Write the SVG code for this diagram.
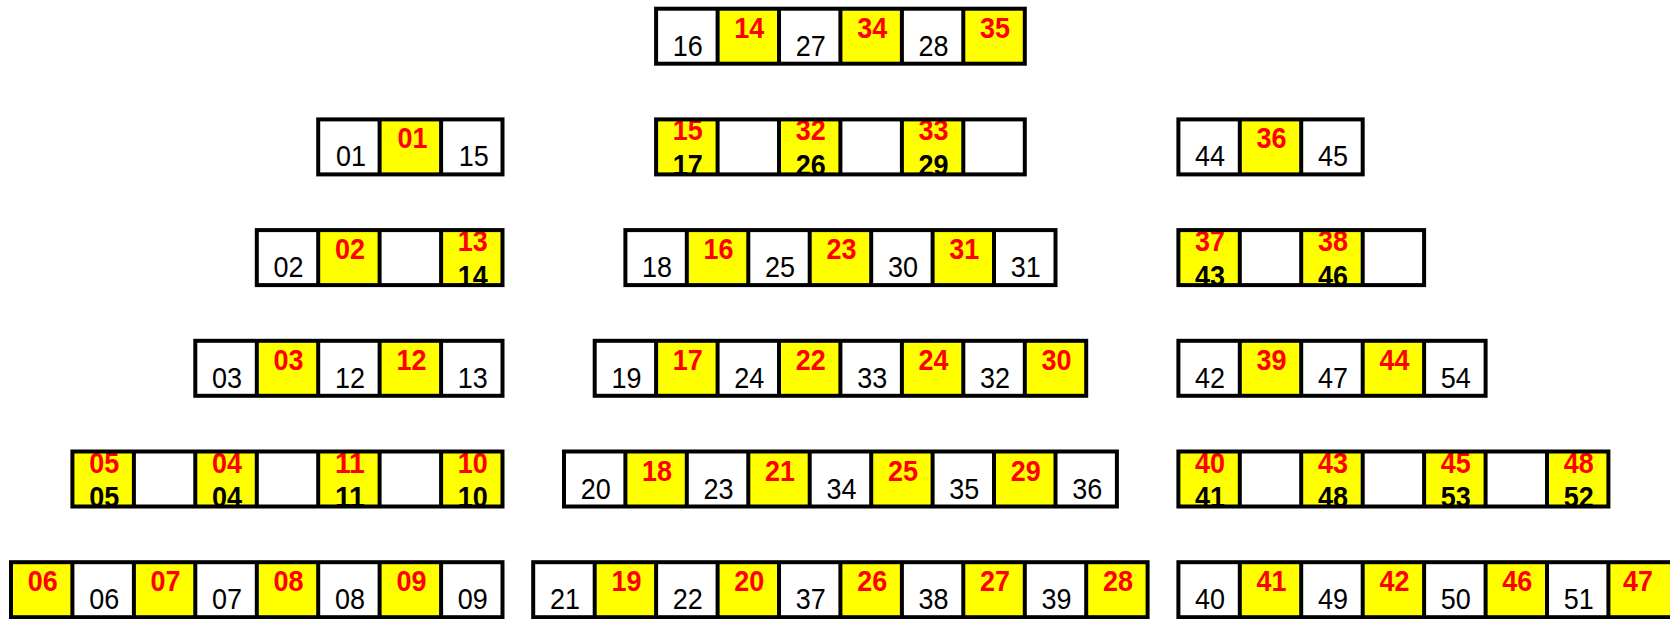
<svg xmlns="http://www.w3.org/2000/svg" width="1670" height="619" viewBox="0 0 1670 619">
<style>
.w{fill:#fff}.y{fill:#ff0}
.f{fill:none;stroke:#000;stroke-width:4}
text{font-family:"Liberation Sans",Arial,sans-serif;font-size:30px;text-anchor:middle}
.k{fill:#000}.r{fill:#f00;font-weight:bold}.b{fill:#000;font-weight:bold}
</style>
<rect x="0" y="0" width="1670" height="619" fill="#fff"/>

<!-- LEFT COLUMN -->
<g id="L2">
<rect class="w" x="318.2" y="119.4" width="184.3" height="55"/>
<rect class="y" x="379.6" y="119.4" width="61.5" height="55"/>
<text class="k" x="350.9" y="166.4" textLength="30" lengthAdjust="spacingAndGlyphs">01</text>
<text class="r" x="412.4" y="148.4" textLength="30" lengthAdjust="spacingAndGlyphs">01</text>
<text class="k" x="473.8" y="166.4" textLength="30" lengthAdjust="spacingAndGlyphs">15</text>
<rect class="f" x="318.2" y="119.4" width="184.3" height="55"/>
<path class="f" d="M379.6 119.4V174.4M441.1 119.4V174.4"/>
</g>

<g id="L3">
<rect class="w" x="256.8" y="230.1" width="245.7" height="55"/>
<rect class="y" x="318.2" y="230.1" width="61.4" height="55"/>
<rect class="y" x="441.1" y="230.1" width="61.4" height="55"/>
<text class="k" x="288.5" y="277.1" textLength="30" lengthAdjust="spacingAndGlyphs">02</text>
<text class="r" x="349.9" y="259.1" textLength="30" lengthAdjust="spacingAndGlyphs">02</text>
<text class="r" x="472.8" y="251.1" textLength="30" lengthAdjust="spacingAndGlyphs">13</text>
<text class="b" x="472.8" y="285.6" textLength="30" lengthAdjust="spacingAndGlyphs">14</text>
<rect class="f" x="256.8" y="230.1" width="245.7" height="55"/>
<path class="f" d="M318.2 230.1V285.1M379.6 230.1V285.1M441.1 230.1V285.1"/>
</g>

<g id="L4">
<rect class="w" x="195.3" y="340.8" width="307.2" height="55"/>
<rect class="y" x="256.8" y="340.8" width="61.4" height="55"/>
<rect class="y" x="379.6" y="340.8" width="61.5" height="55"/>
<text class="k" x="227" y="387.8" textLength="30" lengthAdjust="spacingAndGlyphs">03</text>
<text class="r" x="288.5" y="369.8" textLength="30" lengthAdjust="spacingAndGlyphs">03</text>
<text class="k" x="349.9" y="387.8" textLength="30" lengthAdjust="spacingAndGlyphs">12</text>
<text class="r" x="411.4" y="369.8" textLength="30" lengthAdjust="spacingAndGlyphs">12</text>
<text class="k" x="472.8" y="387.8" textLength="30" lengthAdjust="spacingAndGlyphs">13</text>
<rect class="f" x="195.3" y="340.8" width="307.2" height="55"/>
<path class="f" d="M256.8 340.8V395.8M318.2 340.8V395.8M379.6 340.8V395.8M441.1 340.8V395.8"/>
</g>

<g id="L5">
<rect class="w" x="72.4" y="451.5" width="430.1" height="55"/>
<rect class="y" x="72.4" y="451.5" width="61.5" height="55"/>
<rect class="y" x="195.3" y="451.5" width="61.5" height="55"/>
<rect class="y" x="318.2" y="451.5" width="61.4" height="55"/>
<rect class="y" x="441.1" y="451.5" width="61.4" height="55"/>
<text class="r" x="104.2" y="472.5" textLength="30" lengthAdjust="spacingAndGlyphs">05</text>
<text class="b" x="104.2" y="507" textLength="30" lengthAdjust="spacingAndGlyphs">05</text>
<text class="r" x="227" y="472.5" textLength="30" lengthAdjust="spacingAndGlyphs">04</text>
<text class="b" x="227" y="507" textLength="30" lengthAdjust="spacingAndGlyphs">04</text>
<text class="r" x="349.9" y="472.5" textLength="30" lengthAdjust="spacingAndGlyphs">11</text>
<text class="b" x="349.9" y="507" textLength="30" lengthAdjust="spacingAndGlyphs">11</text>
<text class="r" x="472.8" y="472.5" textLength="30" lengthAdjust="spacingAndGlyphs">10</text>
<text class="b" x="472.8" y="507" textLength="30" lengthAdjust="spacingAndGlyphs">10</text>
<rect class="f" x="72.4" y="451.5" width="430.1" height="55"/>
<path class="f" d="M133.9 451.5V506.5M195.3 451.5V506.5M256.8 451.5V506.5M318.2 451.5V506.5M379.6 451.5V506.5M441.1 451.5V506.5"/>
</g>

<g id="L6">
<rect class="w" x="11" y="562.2" width="491.5" height="55"/>
<rect class="y" x="11" y="562.2" width="61.4" height="55"/>
<rect class="y" x="133.9" y="562.2" width="61.4" height="55"/>
<rect class="y" x="256.8" y="562.2" width="61.4" height="55"/>
<rect class="y" x="379.6" y="562.2" width="61.5" height="55"/>
<text class="r" x="42.7" y="591.2" textLength="30" lengthAdjust="spacingAndGlyphs">06</text>
<text class="k" x="104.2" y="609.2" textLength="30" lengthAdjust="spacingAndGlyphs">06</text>
<text class="r" x="165.6" y="591.2" textLength="30" lengthAdjust="spacingAndGlyphs">07</text>
<text class="k" x="227" y="609.2" textLength="30" lengthAdjust="spacingAndGlyphs">07</text>
<text class="r" x="288.5" y="591.2" textLength="30" lengthAdjust="spacingAndGlyphs">08</text>
<text class="k" x="349.9" y="609.2" textLength="30" lengthAdjust="spacingAndGlyphs">08</text>
<text class="r" x="411.4" y="591.2" textLength="30" lengthAdjust="spacingAndGlyphs">09</text>
<text class="k" x="472.8" y="609.2" textLength="30" lengthAdjust="spacingAndGlyphs">09</text>
<rect class="f" x="11" y="562.2" width="491.5" height="55"/>
<path class="f" d="M72.4 562.2V617.2M133.9 562.2V617.2M195.3 562.2V617.2M256.8 562.2V617.2M318.2 562.2V617.2M379.6 562.2V617.2M441.1 562.2V617.2"/>
</g>

<!-- MIDDLE COLUMN -->
<g id="M1">
<rect class="w" x="656.1" y="8.7" width="368.7" height="55"/>
<rect class="y" x="717.6" y="8.7" width="61.4" height="55"/>
<rect class="y" x="840.4" y="8.7" width="61.5" height="55"/>
<rect class="y" x="963.3" y="8.7" width="61.5" height="55"/>
<text class="k" x="687.8" y="55.7" textLength="30" lengthAdjust="spacingAndGlyphs">16</text>
<text class="r" x="749.3" y="37.7" textLength="30" lengthAdjust="spacingAndGlyphs">14</text>
<text class="k" x="810.7" y="55.7" textLength="30" lengthAdjust="spacingAndGlyphs">27</text>
<text class="r" x="872.2" y="37.7" textLength="30" lengthAdjust="spacingAndGlyphs">34</text>
<text class="k" x="933.6" y="55.7" textLength="30" lengthAdjust="spacingAndGlyphs">28</text>
<text class="r" x="995" y="37.7" textLength="30" lengthAdjust="spacingAndGlyphs">35</text>
<rect class="f" x="656.1" y="8.7" width="368.7" height="55"/>
<path class="f" d="M717.6 8.7V63.7M779 8.7V63.7M840.4 8.7V63.7M901.9 8.7V63.7M963.3 8.7V63.7"/>
</g>

<g id="M2">
<rect class="w" x="656.1" y="119.4" width="368.7" height="55"/>
<rect class="y" x="656.1" y="119.4" width="61.5" height="55"/>
<rect class="y" x="779" y="119.4" width="61.4" height="55"/>
<rect class="y" x="901.9" y="119.4" width="61.4" height="55"/>
<text class="r" x="687.8" y="140.4" textLength="30" lengthAdjust="spacingAndGlyphs">15</text>
<text class="b" x="687.8" y="174.9" textLength="30" lengthAdjust="spacingAndGlyphs">17</text>
<text class="r" x="810.7" y="140.4" textLength="30" lengthAdjust="spacingAndGlyphs">32</text>
<text class="b" x="810.7" y="174.9" textLength="30" lengthAdjust="spacingAndGlyphs">26</text>
<text class="r" x="933.6" y="140.4" textLength="30" lengthAdjust="spacingAndGlyphs">33</text>
<text class="b" x="933.6" y="174.9" textLength="30" lengthAdjust="spacingAndGlyphs">29</text>
<rect class="f" x="656.1" y="119.4" width="368.7" height="55"/>
<path class="f" d="M717.6 119.4V174.4M779 119.4V174.4M840.4 119.4V174.4M901.9 119.4V174.4M963.3 119.4V174.4"/>
</g>

<g id="M3">
<rect class="w" x="625.4" y="230.1" width="430.1" height="55"/>
<rect class="y" x="686.8" y="230.1" width="61.5" height="55"/>
<rect class="y" x="809.7" y="230.1" width="61.5" height="55"/>
<rect class="y" x="932.6" y="230.1" width="61.4" height="55"/>
<text class="k" x="657.1" y="277.1" textLength="30" lengthAdjust="spacingAndGlyphs">18</text>
<text class="r" x="718.6" y="259.1" textLength="30" lengthAdjust="spacingAndGlyphs">16</text>
<text class="k" x="780" y="277.1" textLength="30" lengthAdjust="spacingAndGlyphs">25</text>
<text class="r" x="841.4" y="259.1" textLength="30" lengthAdjust="spacingAndGlyphs">23</text>
<text class="k" x="902.9" y="277.1" textLength="30" lengthAdjust="spacingAndGlyphs">30</text>
<text class="r" x="964.3" y="259.1" textLength="30" lengthAdjust="spacingAndGlyphs">31</text>
<text class="k" x="1025.8" y="277.1" textLength="30" lengthAdjust="spacingAndGlyphs">31</text>
<rect class="f" x="625.4" y="230.1" width="430.1" height="55"/>
<path class="f" d="M686.8 230.1V285.1M748.3 230.1V285.1M809.7 230.1V285.1M871.2 230.1V285.1M932.6 230.1V285.1M994 230.1V285.1"/>
</g>

<g id="M4">
<rect class="w" x="594.7" y="340.8" width="491.5" height="55"/>
<rect class="y" x="656.1" y="340.8" width="61.5" height="55"/>
<rect class="y" x="779" y="340.8" width="61.4" height="55"/>
<rect class="y" x="901.9" y="340.8" width="61.4" height="55"/>
<rect class="y" x="1024.8" y="340.8" width="61.4" height="55"/>
<text class="k" x="626.4" y="387.8" textLength="30" lengthAdjust="spacingAndGlyphs">19</text>
<text class="r" x="687.8" y="369.8" textLength="30" lengthAdjust="spacingAndGlyphs">17</text>
<text class="k" x="749.3" y="387.8" textLength="30" lengthAdjust="spacingAndGlyphs">24</text>
<text class="r" x="810.7" y="369.8" textLength="30" lengthAdjust="spacingAndGlyphs">22</text>
<text class="k" x="872.2" y="387.8" textLength="30" lengthAdjust="spacingAndGlyphs">33</text>
<text class="r" x="933.6" y="369.8" textLength="30" lengthAdjust="spacingAndGlyphs">24</text>
<text class="k" x="995" y="387.8" textLength="30" lengthAdjust="spacingAndGlyphs">32</text>
<text class="r" x="1056.5" y="369.8" textLength="30" lengthAdjust="spacingAndGlyphs">30</text>
<rect class="f" x="594.7" y="340.8" width="491.5" height="55"/>
<path class="f" d="M656.1 340.8V395.8M717.6 340.8V395.8M779 340.8V395.8M840.4 340.8V395.8M901.9 340.8V395.8M963.3 340.8V395.8M1024.8 340.8V395.8"/>
</g>

<g id="M5">
<rect class="w" x="564" y="451.5" width="552.9" height="55"/>
<rect class="y" x="625.4" y="451.5" width="61.4" height="55"/>
<rect class="y" x="748.3" y="451.5" width="61.4" height="55"/>
<rect class="y" x="871.2" y="451.5" width="61.4" height="55"/>
<rect class="y" x="994" y="451.5" width="61.5" height="55"/>
<text class="k" x="595.7" y="498.5" textLength="30" lengthAdjust="spacingAndGlyphs">20</text>
<text class="r" x="657.1" y="480.5" textLength="30" lengthAdjust="spacingAndGlyphs">18</text>
<text class="k" x="718.6" y="498.5" textLength="30" lengthAdjust="spacingAndGlyphs">23</text>
<text class="r" x="780" y="480.5" textLength="30" lengthAdjust="spacingAndGlyphs">21</text>
<text class="k" x="841.4" y="498.5" textLength="30" lengthAdjust="spacingAndGlyphs">34</text>
<text class="r" x="902.9" y="480.5" textLength="30" lengthAdjust="spacingAndGlyphs">25</text>
<text class="k" x="964.3" y="498.5" textLength="30" lengthAdjust="spacingAndGlyphs">35</text>
<text class="r" x="1025.8" y="480.5" textLength="30" lengthAdjust="spacingAndGlyphs">29</text>
<text class="k" x="1087.2" y="498.5" textLength="30" lengthAdjust="spacingAndGlyphs">36</text>
<rect class="f" x="564" y="451.5" width="552.9" height="55"/>
<path class="f" d="M625.4 451.5V506.5M686.8 451.5V506.5M748.3 451.5V506.5M809.7 451.5V506.5M871.2 451.5V506.5M932.6 451.5V506.5M994 451.5V506.5M1055.5 451.5V506.5"/>
</g>

<g id="M6">
<rect class="w" x="533.2" y="562.2" width="614.4" height="55"/>
<rect class="y" x="594.7" y="562.2" width="61.4" height="55"/>
<rect class="y" x="717.6" y="562.2" width="61.4" height="55"/>
<rect class="y" x="840.4" y="562.2" width="61.5" height="55"/>
<rect class="y" x="963.3" y="562.2" width="61.5" height="55"/>
<rect class="y" x="1086.2" y="562.2" width="61.4" height="55"/>
<text class="k" x="565" y="609.2" textLength="30" lengthAdjust="spacingAndGlyphs">21</text>
<text class="r" x="626.4" y="591.2" textLength="30" lengthAdjust="spacingAndGlyphs">19</text>
<text class="k" x="687.8" y="609.2" textLength="30" lengthAdjust="spacingAndGlyphs">22</text>
<text class="r" x="749.3" y="591.2" textLength="30" lengthAdjust="spacingAndGlyphs">20</text>
<text class="k" x="810.7" y="609.2" textLength="30" lengthAdjust="spacingAndGlyphs">37</text>
<text class="r" x="872.2" y="591.2" textLength="30" lengthAdjust="spacingAndGlyphs">26</text>
<text class="k" x="933.6" y="609.2" textLength="30" lengthAdjust="spacingAndGlyphs">38</text>
<text class="r" x="995" y="591.2" textLength="30" lengthAdjust="spacingAndGlyphs">27</text>
<text class="k" x="1056.5" y="609.2" textLength="30" lengthAdjust="spacingAndGlyphs">39</text>
<text class="r" x="1117.9" y="591.2" textLength="30" lengthAdjust="spacingAndGlyphs">28</text>
<rect class="f" x="533.2" y="562.2" width="614.4" height="55"/>
<path class="f" d="M594.7 562.2V617.2M656.1 562.2V617.2M717.6 562.2V617.2M779 562.2V617.2M840.4 562.2V617.2M901.9 562.2V617.2M963.3 562.2V617.2M1024.8 562.2V617.2M1086.2 562.2V617.2"/>
</g>

<!-- RIGHT COLUMN -->
<g id="R2">
<rect class="w" x="1178.4" y="119.4" width="184.3" height="55"/>
<rect class="y" x="1239.8" y="119.4" width="61.4" height="55"/>
<text class="k" x="1210.1" y="166.4" textLength="30" lengthAdjust="spacingAndGlyphs">44</text>
<text class="r" x="1271.5" y="148.4" textLength="30" lengthAdjust="spacingAndGlyphs">36</text>
<text class="k" x="1333" y="166.4" textLength="30" lengthAdjust="spacingAndGlyphs">45</text>
<rect class="f" x="1178.4" y="119.4" width="184.3" height="55"/>
<path class="f" d="M1239.8 119.4V174.4M1301.2 119.4V174.4"/>
</g>

<g id="R3">
<rect class="w" x="1178.4" y="230.1" width="245.7" height="55"/>
<rect class="y" x="1178.4" y="230.1" width="61.4" height="55"/>
<rect class="y" x="1301.2" y="230.1" width="61.5" height="55"/>
<text class="r" x="1210.1" y="251.1" textLength="30" lengthAdjust="spacingAndGlyphs">37</text>
<text class="b" x="1210.1" y="285.6" textLength="30" lengthAdjust="spacingAndGlyphs">43</text>
<text class="r" x="1333" y="251.1" textLength="30" lengthAdjust="spacingAndGlyphs">38</text>
<text class="b" x="1333" y="285.6" textLength="30" lengthAdjust="spacingAndGlyphs">46</text>
<rect class="f" x="1178.4" y="230.1" width="245.7" height="55"/>
<path class="f" d="M1239.8 230.1V285.1M1301.2 230.1V285.1M1362.7 230.1V285.1"/>
</g>

<g id="R4">
<rect class="w" x="1178.4" y="340.8" width="307.2" height="55"/>
<rect class="y" x="1239.8" y="340.8" width="61.4" height="55"/>
<rect class="y" x="1362.7" y="340.8" width="61.4" height="55"/>
<text class="k" x="1210.1" y="387.8" textLength="30" lengthAdjust="spacingAndGlyphs">42</text>
<text class="r" x="1271.5" y="369.8" textLength="30" lengthAdjust="spacingAndGlyphs">39</text>
<text class="k" x="1333" y="387.8" textLength="30" lengthAdjust="spacingAndGlyphs">47</text>
<text class="r" x="1394.4" y="369.8" textLength="30" lengthAdjust="spacingAndGlyphs">44</text>
<text class="k" x="1455.8" y="387.8" textLength="30" lengthAdjust="spacingAndGlyphs">54</text>
<rect class="f" x="1178.4" y="340.8" width="307.2" height="55"/>
<path class="f" d="M1239.8 340.8V395.8M1301.2 340.8V395.8M1362.7 340.8V395.8M1424.1 340.8V395.8"/>
</g>

<g id="R5">
<rect class="w" x="1178.4" y="451.5" width="430" height="55"/>
<rect class="y" x="1178.4" y="451.5" width="61.4" height="55"/>
<rect class="y" x="1301.2" y="451.5" width="61.5" height="55"/>
<rect class="y" x="1424.1" y="451.5" width="61.5" height="55"/>
<rect class="y" x="1547" y="451.5" width="61.4" height="55"/>
<text class="r" x="1210.1" y="472.5" textLength="30" lengthAdjust="spacingAndGlyphs">40</text>
<text class="b" x="1210.1" y="507" textLength="30" lengthAdjust="spacingAndGlyphs">41</text>
<text class="r" x="1333" y="472.5" textLength="30" lengthAdjust="spacingAndGlyphs">43</text>
<text class="b" x="1333" y="507" textLength="30" lengthAdjust="spacingAndGlyphs">48</text>
<text class="r" x="1455.8" y="472.5" textLength="30" lengthAdjust="spacingAndGlyphs">45</text>
<text class="b" x="1455.8" y="507" textLength="30" lengthAdjust="spacingAndGlyphs">53</text>
<text class="r" x="1578.7" y="472.5" textLength="30" lengthAdjust="spacingAndGlyphs">48</text>
<text class="b" x="1578.7" y="507" textLength="30" lengthAdjust="spacingAndGlyphs">52</text>
<rect class="f" x="1178.4" y="451.5" width="430" height="55"/>
<path class="f" d="M1239.8 451.5V506.5M1301.2 451.5V506.5M1362.7 451.5V506.5M1424.1 451.5V506.5M1485.6 451.5V506.5M1547 451.5V506.5"/>
</g>

<g id="R6">
<rect class="w" x="1178.4" y="562.2" width="496" height="55"/>
<rect class="y" x="1239.8" y="562.2" width="61.4" height="55"/>
<rect class="y" x="1362.7" y="562.2" width="61.4" height="55"/>
<rect class="y" x="1485.6" y="562.2" width="61.4" height="55"/>
<rect class="y" x="1608.4" y="562.2" width="66" height="55"/>
<text class="k" x="1210.1" y="609.2" textLength="30" lengthAdjust="spacingAndGlyphs">40</text>
<text class="r" x="1271.5" y="591.2" textLength="30" lengthAdjust="spacingAndGlyphs">41</text>
<text class="k" x="1333" y="609.2" textLength="30" lengthAdjust="spacingAndGlyphs">49</text>
<text class="r" x="1394.4" y="591.2" textLength="30" lengthAdjust="spacingAndGlyphs">42</text>
<text class="k" x="1455.8" y="609.2" textLength="30" lengthAdjust="spacingAndGlyphs">50</text>
<text class="r" x="1517.3" y="591.2" textLength="30" lengthAdjust="spacingAndGlyphs">46</text>
<text class="k" x="1578.7" y="609.2" textLength="30" lengthAdjust="spacingAndGlyphs">51</text>
<text class="r" x="1638" y="591.2" textLength="30" lengthAdjust="spacingAndGlyphs">47</text>
<rect class="f" x="1178.4" y="562.2" width="496" height="55"/>
<path class="f" d="M1239.8 562.2V617.2M1301.2 562.2V617.2M1362.7 562.2V617.2M1424.1 562.2V617.2M1485.6 562.2V617.2M1547 562.2V617.2M1608.4 562.2V617.2"/>
</g>
</svg>
